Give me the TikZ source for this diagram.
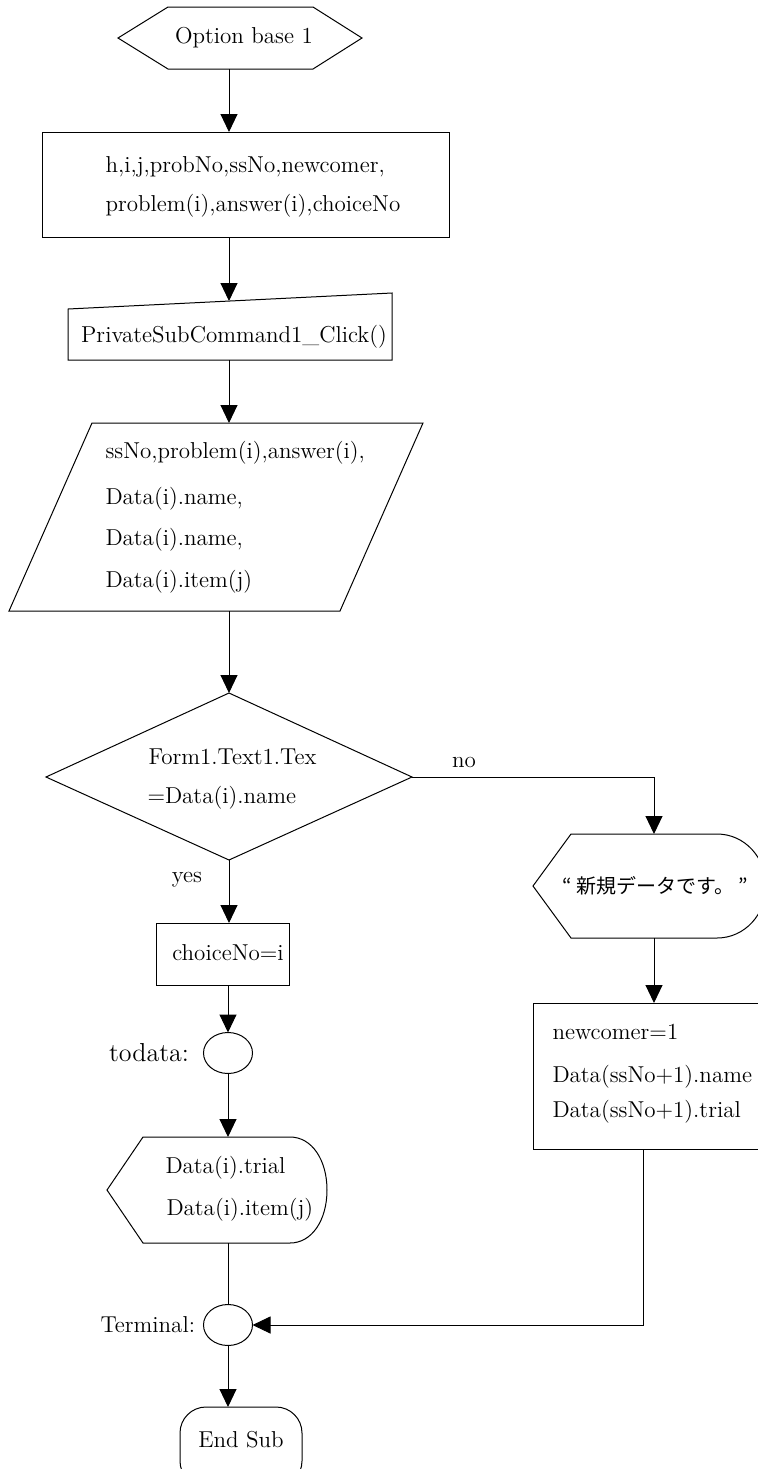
\documentclass[tikz,border=0pt]{standalone}
\usepackage{fontspec}
\newfontfamily\jpfont{Noto Sans CJK JP}
\usetikzlibrary{arrows.meta, shapes.geometric, positioning}

\tikzset{
	txt/.style={font=\fontsize{11.5}{13}\selectfont, inner sep=0pt},
	lbl/.style={txt, anchor=west},
	box/.style={draw, inner sep=0pt, outer sep=0pt},
	conn/.style={draw, ellipse, inner sep=0pt, outer sep=0pt, minimum width=24.5pt, minimum height=20.5pt},
	arr/.style={-{Triangle[length=9pt,width=8.5pt]}},
}

\begin{document}
\begin{tikzpicture}[x=0.5pt,y=-0.5pt,line width=0.5pt]

	\clip (0,0) rectangle (758,1469);

	\draw (118,38) -- (168,7) -- (313,7) -- (362,38) -- (313,69) -- (168,69) -- cycle;
	\node[txt] (opt) at (244,38) {Option base 1};
	\coordinate (opt-s) at (229,69);

	\node[box, minimum width=203.5pt, minimum height=52.5pt] (decl) at (245.5,184.5) {};
	\node[lbl] (decl-a) at (105,167) {h,i,j,probNo,ssNo,newcomer,};
	\node[lbl] (decl-b) at (105,206) {problem(i),answer(i),choiceNo};

	\draw (68,309) -- (392,293) -- (392,360) -- (68,360) -- cycle;
	\node[txt] (click) at (234,337) {PrivateSubCommand1\_Click()};
	\coordinate (click-n) at (229,301);
	\coordinate (click-s) at (229,360);

	\draw (92,423) -- (423,423) -- (340,611) -- (9,611) -- cycle;
	\node[lbl] (in-a) at (105,453) {ssNo,problem(i),answer(i),};
	\node[lbl] (in-b) at (105,499) {Data(i).name,};
	\node[lbl] (in-c) at (105,540) {Data(i).name,};
	\node[lbl] (in-d) at (105,582) {Data(i).item(j)};
	\coordinate (in-n) at (229,423);
	\coordinate (in-s) at (229,611);

	\draw (229,693) -- (412,777) -- (229,860) -- (46,777) -- cycle;
	\node[lbl] (dec-a) at (148,757) {Form1.Text1.Tex};
	\node[lbl] (dec-b) at (147,798) {=Data(i).name};
	\coordinate (dec-n) at (229,693);
	\coordinate (dec-e) at (412,777);
	\coordinate (dec-s) at (229,860);
	\node[txt] (no) at (464,762) {no};
	\node[txt] (yes) at (187,880) {yes};

	\draw (533,886) -- (571,834) -- (717,834) .. controls (745,834) and (766,858) .. (766,886)
		.. controls (766,914) and (745,938) .. (717,938) -- (571,938) -- cycle;
	\node[txt, font=\jpfont\fontsize{10}{12}\selectfont] (msg) at (655,886) {“ 新規データです。 ”};
	\coordinate (msg-n) at (654,834);
	\coordinate (msg-s) at (654,938);

	\node[box, minimum width=118.5pt, minimum height=73pt] (new) at (651.5,1076) {};
	\node[lbl] (new-a) at (552,1032) {newcomer=1};
	\node[lbl] (new-b) at (552,1077) {Data(ssNo+1).name};
	\node[lbl] (new-c) at (552,1112) {Data(ssNo+1).trial};
	\coordinate (new-s) at (643,1149);

	\node[box, minimum width=66.5pt, minimum height=31pt] (choice) at (222.5,954) {};
	\node[txt] (choice-a) at (228,953) {choiceNo=i};

	\node[conn] (todata) at (228,1053) {};
	\node[txt, font=\fontsize{13}{15}\selectfont, left=7pt of todata] (todata-l) {todata:};

	\draw (107,1190) -- (143,1137) -- (290,1137) .. controls (312,1137) and (327,1160) .. (327,1190)
		.. controls (327,1220) and (312,1243) .. (290,1243) -- (143,1243) -- cycle;
	\node[lbl] (out-a) at (165,1168) {Data(i).trial};
	\node[lbl] (out-b) at (166,1210) {Data(i).item(j)};
	\coordinate (out-n) at (228,1137);
	\coordinate (out-s) at (228,1243);

	\node[conn] (term) at (228,1325) {};
	\node[txt, left=4pt of term] (term-l) {Terminal:};

	\node[box, rounded corners=13pt, minimum width=61pt, minimum height=40pt] (endsub) at (241,1447) {};
	\node[txt] (endsub-a) at (241,1440) {End Sub};

	\draw[arr] (opt-s) -- (opt-s |- decl.north);
	\draw[arr] (opt-s |- decl.south) -- (click-n);
	\draw[arr] (click-s) -- (in-n);
	\draw[arr] (in-s) -- (dec-n);
	\draw[arr] (dec-e) -| (msg-n);
	\draw[arr] (dec-s) -- (dec-s |- choice.north);
	\draw[arr] (todata.north |- choice.south) -- (todata.north);
	\draw[arr] (todata.south) -- (out-n);
	\draw (out-s) -- (term.north);
	\draw[arr] (term.south) -- (term.south |- endsub.north);
	\draw[arr] (msg-s) -- (msg-s |- new.north);
	\draw[arr] (new-s) |- (term.east);

\end{tikzpicture}
\end{document}
